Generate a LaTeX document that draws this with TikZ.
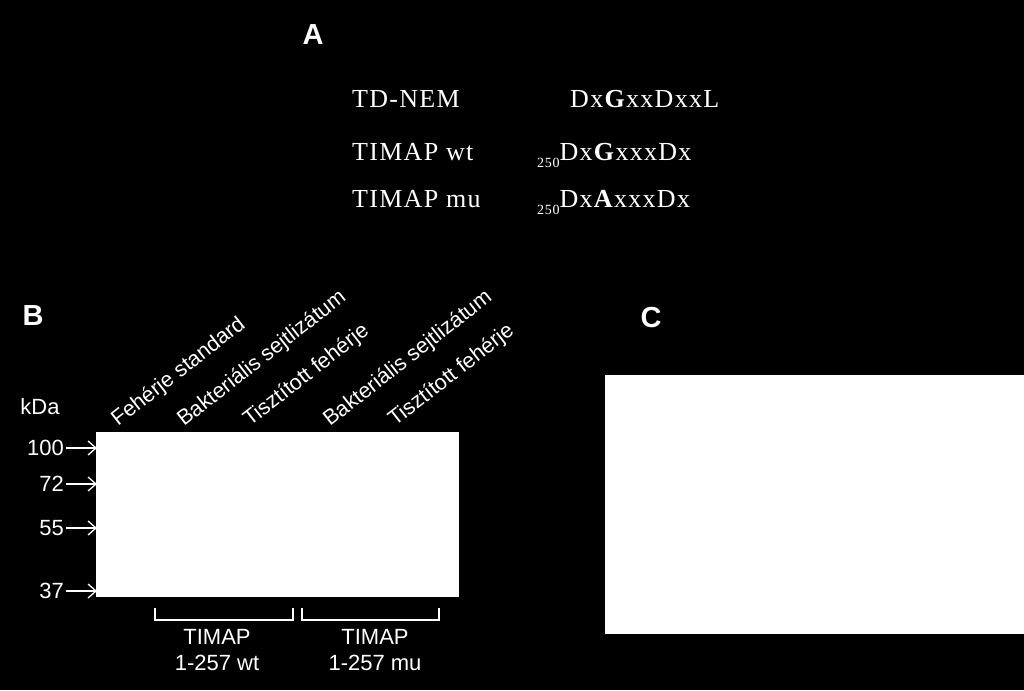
\documentclass[tikz,border=0pt]{standalone}
\usepackage{fontspec}
\setmainfont{Liberation Serif}[LetterSpace=5]
\setsansfont{Liberation Sans}
\usetikzlibrary{arrows.meta}
\begin{document}
\begin{tikzpicture}[x=1pt,y=-1pt,
  every node/.style={text=white,inner sep=0pt},
  panel/.style={font=\sffamily\bfseries\fontsize{29}{30}\selectfont},
  seq/.style={font=\fontsize{26}{28}\selectfont,anchor=base west},
  lab/.style={font=\sffamily\fontsize{22}{25}\selectfont},
  lane/.style={font=\sffamily\fontsize{21.5}{23}\selectfont,rotate=38,anchor=base west},
  mw/.style={font=\sffamily\fontsize{22}{24}\selectfont,anchor=east},
  mwarrow/.style={draw=white,line width=1.3pt,-{Straight Barb[length=8pt,width=14pt]}},
  brk/.style={draw=white,line width=1.3pt}
]
\useasboundingbox[fill=black] (0,0) rectangle (1024,690);
% Panel A
\node[panel] (A) at (313,35) {A};
\node[seq] (s1) at (352,108) {TD-NEM};
\node[seq] (s2) at (352,160) {TIMAP wt};
\node[seq] (s3) at (352,207) {TIMAP mu};
\node[seq] (q1) at (570,108) {Dx\textbf{G}xxDxxL};
\node[seq] (q2) at (537,160) {\raisebox{-7pt}{\fontsize{14}{14}\selectfont 250}Dx\textbf{G}xxxDx};
\node[seq] (q3) at (537,207) {\raisebox{-7pt}{\fontsize{14}{14}\selectfont 250}Dx\textbf{A}xxxDx};
% Panel B
\node[panel] (B) at (33,316) {B};
\node[lab] (kda) at (40,407) {kDa};
\fill[white] (96,432) rectangle (459,597);
\node[mw] (m100) at (64,448) {100};
\node[mw] (m72) at (64,484) {72};
\node[mw] (m55) at (64,528) {55};
\node[mw] (m37) at (64,591) {37};
\coordinate (t100) at (97,448);
\coordinate (t72) at (97,484);
\coordinate (t55) at (97,528);
\coordinate (t37) at (97,591);
\draw[mwarrow] (m100.east) ++(2,0) -- (t100);
\draw[mwarrow] (m72.east) ++(2,0) -- (t72);
\draw[mwarrow] (m55.east) ++(2,0) -- (t55);
\draw[mwarrow] (m37.east) ++(2,0) -- (t37);
\node[lane] (l1) at (118,427) {Fehérje standard};
\node[lane] (l2) at (184,427) {Bakteriális sejtlizátum};
\node[lane] (l3) at (250,427) {Tisztított fehérje};
\node[lane] (l4) at (330,427) {Bakteriális sejtlizátum};
\node[lane] (l5) at (395,427) {Tisztított fehérje};
\draw[brk] (155,608) -- (155,620) -- (293,620) -- (293,608);
\draw[brk] (302,608) -- (302,620) -- (439,620) -- (439,608);
\node[lab,align=center] (g1) at (217,650) {TIMAP\\[1pt]1-257 wt};
\node[lab,align=center] (g2) at (375,650) {TIMAP\\[1pt]1-257 mu};
% Panel C
\node[panel] (C) at (651,318) {C};
\fill[white] (605,375) rectangle (1024,634);
\end{tikzpicture}
\end{document}
